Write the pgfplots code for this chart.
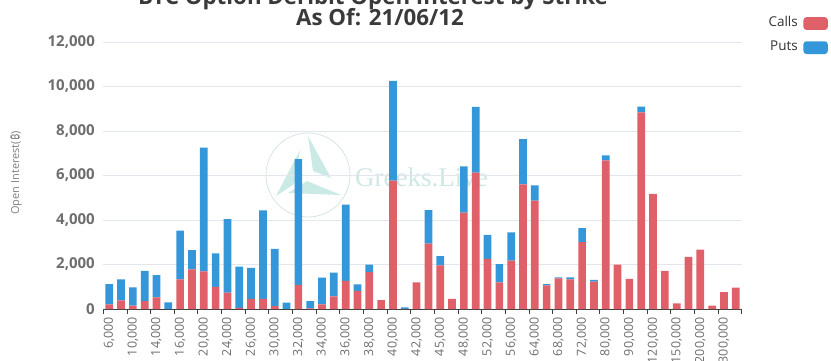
\documentclass[border=0pt]{standalone}
\usepackage{fontspec}
\setmainfont{Open Sans}
\newfontfamily\notosans{Noto Sans}
\newfontfamily\wmserif{Liberation Serif}
\usepackage{pgfplots}
\pgfplotsset{compat=1.18}
\definecolor{callred}{HTML}{E0606A}
\definecolor{putblue}{HTML}{3497D9}
\definecolor{gridc}{HTML}{E3E6EC}
\definecolor{titlec}{HTML}{3A3A3A}
\definecolor{tickc}{HTML}{6E6E6E}
\definecolor{wmteal}{HTML}{9FD9D1}
\begin{document}
\begin{tikzpicture}[x=1bp,y=1bp]
% watermark (decoration)
\draw[wmteal!70!gray!40, line width=0.8bp] (308,-175) circle (42);
\fill[wmteal, opacity=0.55] (308,-136) -- (331,-178) -- (313,-171) -- cycle;
\fill[wmteal, opacity=0.55] (300,-150) -- (276,-196) -- (294,-184) -- cycle;
\fill[wmteal, opacity=0.55] (288,-193) -- (341,-195) -- (307,-181) -- cycle;
\node[wmteal!80, opacity=0.6, font=\wmserif\fontsize{17bp}{17bp}\selectfont] at (299,-171) {e};
\node[anchor=base west, wmteal!90!gray, opacity=0.5, font=\wmserif\fontsize{27bp}{27bp}\selectfont, inner sep=0pt] at (355,-186) {Greeks.Live};
\begin{axis}[
  at={(103.3bp,-309bp)}, anchor=south west,
  scale only axis, width=638.4bp, height=267bp,
  xmin=-0.5, xmax=53.5, ymin=0, ymax=12000,
  ybar stacked, bar width=7.7bp,
  axis x line=bottom, axis y line=left,
  x axis line style={-, color=black!75, line width=0.8bp},
  y axis line style={draw=none},
  ytick={0,2000,...,12000},
  ytick style={draw=none},
  ymajorgrids, grid style={gridc, line width=0.8bp},
  /pgf/number format/1000 sep={,},
  /pgf/number format/assume math mode=true,
  scaled y ticks=false,
  yticklabel style={anchor=east, inner sep=0pt, font=\bfseries\fontsize{15bp}{15bp}\selectfont, text=tickc},
  yticklabel shift=8.3bp,
  xtick={0,2,...,52},
  xticklabels={{6,000},{10,000},{14,000},{16,000},{20,000},{24,000},{26,000},{30,000},{32,000},{34,000},{36,000},{38,000},{40,000},{42,000},{45,000},{48,000},{52,000},{56,000},{64,000},{68,000},{72,000},{80,000},{90,000},{120,000},{150,000},{200,000},{300,000}},
  major tick length=0pt,
  xticklabel style={rotate=90, anchor=east, inner sep=0pt, font=\fontsize{12.5bp}{12.5bp}\selectfont, text=tickc},
  xticklabel shift=8bp,
  extra x ticks={-0.5,1.5,...,53.5},
  extra x tick labels={},
  extra x tick style={major tick length=5bp, tick align=outside, tick style={color=black!75, line width=0.8bp}, grid=none},
  legend plot pos=right,
  legend cell align=right,
  legend style={at={(1.1352,1.0936)}, anchor=north east, draw=none, fill=none, inner sep=0pt, row sep=11.4bp, column sep=5.6bp,
    nodes={inner sep=0pt, text height=9bp, text depth=3bp, text=black!80, font=\fontsize{13.5bp}{13.5bp}\selectfont}},
  legend image code/.code={\fill[#1,/tikz/.cd, draw=none, rounded corners=3bp] (0bp,-6.3bp) rectangle (24.4bp,6.4bp);},
]
\addplot[fill=callred, draw=none] coordinates {
(0,210) (1,390) (2,150) (3,360) (4,520) (5,0) (6,1330) (7,1780) (8,1690) (9,990)
(10,735) (11,50) (12,450) (13,450) (14,130) (15,0) (16,1080) (17,30) (18,210) (19,570)
(20,1270) (21,820) (22,1660) (23,400) (24,5770) (25,10) (26,1200) (27,2940) (28,1960) (29,460)
(30,4330) (31,6130) (32,2250) (33,1200) (34,2170) (35,5600) (36,4870) (37,1060) (38,1380) (39,1330)
(40,3010) (41,1230) (42,6680) (43,2000) (44,1350) (45,8840) (46,5170) (47,1710) (48,255) (49,2340)
(50,2670) (51,150) (52,760) (53,960)
};
\addlegendentry{Calls}
\addplot[fill=putblue, draw=none] coordinates {
(0,910) (1,940) (2,825) (3,1350) (4,1000) (5,300) (6,2190) (7,870) (8,5560) (9,1510)
(10,3300) (11,1860) (12,1400) (13,3980) (14,2570) (15,285) (16,5660) (17,330) (18,1200) (19,1060)
(20,3420) (21,290) (22,330) (23,0) (24,4480) (25,60) (26,0) (27,1500) (28,420) (29,0)
(30,2080) (31,2950) (32,1080) (33,820) (34,1270) (35,2040) (36,690) (37,60) (38,45) (39,90)
(40,630) (41,75) (42,225) (43,0) (44,0) (45,255) (46,0) (47,0) (48,0) (49,0)
(50,0) (51,0) (52,0) (53,0)
};
\addlegendentry{Puts}
\end{axis}
% titles
\node[anchor=base, inner sep=0pt, text=titlec, font=\bfseries\fontsize{22.3bp}{22.3bp}\selectfont] at (373,-4.5) {BTC Option Deribit Open Interest by Strike};
\node[anchor=base, inner sep=0pt, text=titlec, font=\bfseries\fontsize{22.3bp}{22.3bp}\selectfont] at (380,-25.3) {As Of: 21/06/12};
\node[rotate=90, inner sep=0pt, text=gray, font=\fontsize{11bp}{11bp}\selectfont] at (16,-173) {Open Interest({\notosans ₿})};
\pgfresetboundingbox
\useasboundingbox (0,0) rectangle (831,-360);
\end{tikzpicture}
\end{document}
